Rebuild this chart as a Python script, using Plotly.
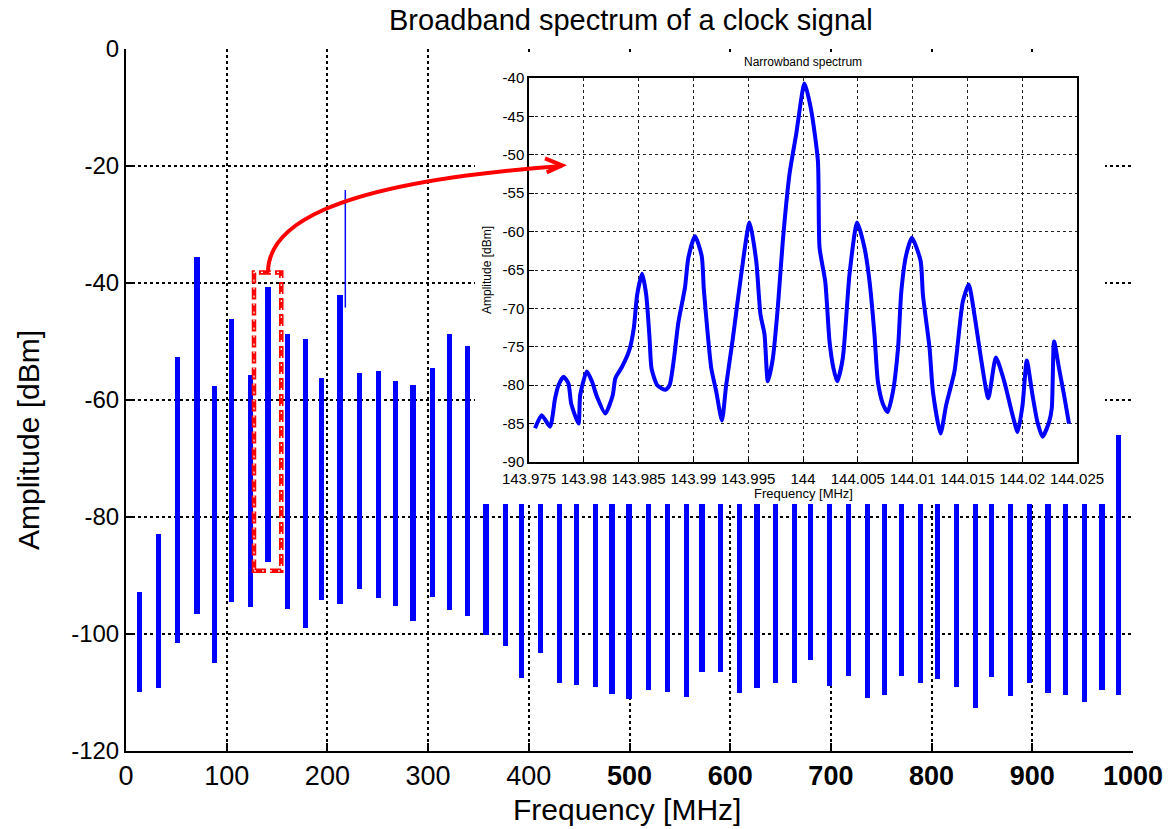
import plotly.graph_objects as go

# ---------------- broadband spectrum: clock harmonics ----------------
harm_freq = [13.6, 32.0, 51.3, 70.5, 87.7, 105.0, 124.0, 141.0, 160.6, 178.7,
             194.0, 212.5, 231.7, 250.5, 267.4, 285.0, 304.0, 320.8, 339.6,
             357.5, 377.0, 393.0, 411.4, 430.3, 447.6, 466.4, 482.6, 499.5, 519.0,
             538.0, 556.8, 572.0, 590.6, 609.4, 626.6, 645.2, 664.0, 679.5, 698.4,
             717.7, 736.5, 753.0, 770.0, 788.8, 806.0, 825.2, 843.8, 859.0, 877.9,
             897.0, 915.6, 932.8, 951.6, 969.2, 985.8]
# upper end of each harmonic trace (dBm); traces from 357.5 MHz on run up
# behind the narrowband panel
harm_top = [-92.9, -82.9, -52.7, -35.6, -57.6, -46.1, -55.8, -40.7, -48.8, -49.6,
            -56.2, -42.1, -55.4, -55.1, -56.8, -57.5, -54.6, -48.8, -50.8,
            -77.0, -77.0, -77.0, -77.0, -77.0, -77.0, -77.0, -77.0, -77.0, -77.0,
            -77.0, -77.0, -77.0, -77.0, -77.0, -77.0, -77.0, -77.0, -77.0, -77.0,
            -77.0, -77.0, -77.0, -77.0, -77.0, -77.0, -77.0, -77.0, -77.0, -77.0,
            -77.0, -77.0, -77.0, -77.0, -77.0, -66.0]
# lower end of each harmonic trace (dBm)
harm_bottom = [-109.9, -109.2, -101.5, -96.6, -105.0, -94.6, -95.3, -87.7, -95.7, -98.9,
               -94.2, -94.8, -92.3, -93.9, -95.2, -97.7, -93.6, -95.9, -97.0,
               -100.2, -102.0, -107.6, -103.3, -108.4, -108.8, -109.1, -110.3, -111.1, -109.6,
               -109.9, -110.7, -106.5, -106.5, -110.0, -109.3, -108.4, -108.3, -104.4, -108.9,
               -107.2, -110.9, -110.5, -107.2, -108.3, -107.7, -109.1, -112.6, -107.3, -110.6,
               -108.3, -110.1, -110.5, -111.7, -109.5, -110.5]

# narrow spur next to the 212 MHz harmonic
spur_freq = 217.8
spur_top = -24.1
spur_bottom = -44.2

main_xticks = [0, 100, 200, 300, 400, 500, 600, 700, 800, 900, 1000]
main_xtick_text = ["0", "100", "200", "300", "400",
                   "<b>500</b>", "<b>600</b>", "<b>700</b>", "<b>800</b>",
                   "<b>900</b>", "<b>1000</b>"]
main_yticks = [-120, -100, -80, -60, -40, -20, 0]
main_ytick_text = ["-120", "-100", "-80", "-60", "-40", "-20", "0"]

# ---------------- narrowband spectrum around 144 MHz ----------------
nb_freq = [143.97555, 143.97616, 143.97692, 143.97738, 143.97769, 143.97815, 143.97860,
           143.97885, 143.97952, 143.97967, 143.98028, 143.98074, 143.98120, 143.98196,
           143.98264, 143.98288, 143.98349, 143.98416, 143.98456, 143.98487, 143.98532,
           143.98569, 143.98600, 143.98618, 143.98670, 143.98746, 143.98783, 143.98823,
           143.98862, 143.98923, 143.98954, 143.99015, 143.99076, 143.99095, 143.99126,
           143.99163, 143.99208, 143.99260, 143.99299, 143.99360, 143.99436, 143.99512,
           143.99573, 143.99612, 143.99649, 143.99679, 143.99725, 143.99770, 143.99816,
           143.99877, 143.99938, 144.00014, 144.00075, 144.00136, 144.00151, 144.00203,
           144.00242, 144.00278, 144.00312, 144.00363, 144.00424, 144.00494, 144.00561,
           144.00607, 144.00652, 144.00683, 144.00728, 144.00772, 144.00821, 144.00867,
           144.00897, 144.00942, 144.00994, 144.01073, 144.01094, 144.01155, 144.01185,
           144.01255, 144.01306, 144.01382, 144.01458, 144.01512, 144.01564, 144.01624,
           144.01691, 144.01760, 144.01836, 144.01912, 144.01958, 144.02003, 144.02042,
           144.02094, 144.02139, 144.02185, 144.02245, 144.02270, 144.02291, 144.02336,
           144.02382, 144.02427]
nb_amp = [-85.6, -83.9, -85.4, -81.7, -80.0, -78.9, -79.8,
          -82.4, -85.0, -81.3, -78.2, -79.5, -81.5, -83.7,
          -81.3, -79.1, -77.6, -75.4, -72.6, -68.2, -65.5,
          -68.2, -73.9, -77.8, -80.0, -80.6, -80.0, -76.5,
          -71.9, -67.3, -63.4, -60.6, -63.2, -67.5, -72.6,
          -77.8, -80.8, -84.6, -80.0, -73.9, -65.6, -58.8,
          -63.8, -70.8, -73.4, -79.5, -76.5, -69.9, -61.2,
          -52.5, -47.3, -40.7, -44.2, -50.8, -62.1, -66.5,
          -74.3, -77.8, -79.5, -76.5, -65.6, -58.8, -62.1,
          -66.5, -73.4, -79.5, -82.4, -83.5, -80.8, -75.2,
          -67.8, -63.0, -60.8, -63.8, -68.2, -75.2, -80.8,
          -86.3, -82.6, -78.2, -69.1, -66.9, -70.8, -76.5,
          -81.7, -76.4, -79.5, -83.9, -86.1, -82.6, -76.8,
          -81.3, -84.8, -86.7, -84.8, -83.0, -74.3, -77.8,
          -81.3, -85.0]

nb_xticks = [143.975, 143.98, 143.985, 143.99, 143.995, 144.0,
             144.005, 144.01, 144.015, 144.02, 144.025]
nb_xtick_text = ["143.975", "143.98", "143.985", "143.99", "143.995", "144",
                 "144.005", "144.01", "144.015", "144.02", "144.025"]
nb_yticks = [-90, -85, -80, -75, -70, -65, -60, -55, -50, -45, -40]
nb_ytick_text = ["-90", "-85", "-80", "-75", "-70", "-65", "-60", "-55", "-50", "-45", "-40"]

BLUE = "#0000ff"
FONT = "Liberation Sans, Arial, sans-serif"
NARROW = "Liberation Sans Narrow, Arial Narrow, Liberation Sans, sans-serif"

fig = go.Figure()

# harmonic traces as floating bars
fig.add_trace(go.Bar(
    x=harm_freq,
    y=[t - b for t, b in zip(harm_top, harm_bottom)],
    base=harm_bottom,
    width=5,
    marker=dict(color=BLUE, line=dict(width=0)),
    xaxis="x", yaxis="y", showlegend=False, hoverinfo="skip",
))
fig.add_trace(go.Scatter(
    x=[spur_freq, spur_freq], y=[spur_top, spur_bottom],
    mode="lines", line=dict(color=BLUE, width=1.5),
    xaxis="x", yaxis="y", showlegend=False, hoverinfo="skip",
))

# white backing panel for the zoomed view
fig.add_trace(go.Scatter(
    x=[0, 1, 1, 0, 0], y=[0, 0, 1, 1, 0],
    fill="toself", fillcolor="white", mode="lines", line=dict(width=0, color="white"),
    xaxis="x2", yaxis="y2", showlegend=False, hoverinfo="skip",
))

# narrowband spectrum
fig.add_trace(go.Scatter(
    x=nb_freq, y=nb_amp, mode="lines",
    line=dict(color=BLUE, width=4, shape="spline", smoothing=0.6),
    xaxis="x3", yaxis="y3", showlegend=False, hoverinfo="skip",
))

W, H = 1176, 829
ML, MR, MT, MB = 126, 43, 49, 78
PW, PH = W - ML - MR, H - MT - MB


def px_x(px):
    return (px - ML) / PW


def px_y(py):
    return (H - MB - py) / PH


grid_common = dict(gridcolor="black", griddash="dot", gridwidth=1.5,
                   zeroline=False, showline=True, linecolor="black", linewidth=2,
                   ticks="inside", ticklen=8, tickwidth=2, tickcolor="black")

fig.update_layout(
    width=W, height=H,
    margin=dict(l=ML, r=MR, t=MT, b=MB),
    paper_bgcolor="white", plot_bgcolor="white",
    font=dict(family=FONT, color="black"),
    bargap=0,
    xaxis=dict(domain=[0, 1], range=[0, 1000], tickvals=main_xticks,
               ticktext=main_xtick_text,
               tickfont=dict(size=27, family=NARROW),
               anchor="y", **grid_common),
    yaxis=dict(domain=[0, 1], range=[-120, 0], tickvals=main_yticks,
               ticktext=main_ytick_text, tickfont=dict(size=24),
               anchor="x", **grid_common),
    xaxis2=dict(domain=[px_x(475), px_x(1105)], range=[0, 1], visible=False,
                anchor="y2", fixedrange=True),
    yaxis2=dict(domain=[px_y(504), px_y(52)], range=[0, 1], visible=False,
                anchor="x2", fixedrange=True),
    xaxis3=dict(domain=[px_x(529), px_x(1077)], range=[143.975, 144.025],
                tickvals=nb_xticks, ticktext=nb_xtick_text, tickangle=0,
                tickfont=dict(size=15), anchor="y3", ticklabelstandoff=2,
                showgrid=True, gridcolor="#222", griddash="dot", gridwidth=1,
                showline=True, mirror=True, linecolor="black", linewidth=1.5,
                ticks="inside", ticklen=5, tickcolor="black", zeroline=False),
    yaxis3=dict(domain=[px_y(462), px_y(78)], range=[-90, -40],
                tickvals=nb_yticks, ticktext=nb_ytick_text,
                tickfont=dict(size=15), anchor="x3",
                showgrid=True, gridcolor="#222", griddash="dot", gridwidth=1,
                showline=True, mirror=True, linecolor="black", linewidth=1.5,
                ticks="inside", ticklen=5, tickcolor="black", zeroline=False),
)

annotations = [
    dict(text="Broadband spectrum of a clock signal", x=px_x(631), y=px_y(20),
         font=dict(size=29)),
    dict(text="Frequency [MHz]", x=px_x(627), y=px_y(809), font=dict(size=30)),
    dict(text="Amplitude [dBm]", x=px_x(29), y=px_y(440), textangle=-90,
         font=dict(size=30)),
    dict(text="Narrowband spectrum", x=px_x(803), y=px_y(62), font=dict(size=12)),
    dict(text="Frequency [MHz]", x=px_x(803), y=px_y(493), font=dict(size=13)),
    dict(text="Amplitude [dBm]", x=px_x(487), y=px_y(270), textangle=-90,
         font=dict(size=12)),
]
for a in annotations:
    a.update(xref="paper", yref="paper", showarrow=False,
             xanchor="center", yanchor="middle")
fig.update_layout(annotations=annotations)

# highlight box around the 144 MHz harmonic and the curved pointer to the zoom
zoom_box = dict(x0=127.1, x1=154.2, y0=-89.2, y1=-38.2)
fig.add_shape(type="rect", xref="x", yref="y", layer="above", **zoom_box,
              line=dict(color="red", width=4.5, dash="12px,4px"))
fig.add_shape(type="rect", xref="x", yref="y", layer="above", **zoom_box,
              line=dict(color="white", width=1.2, dash="2px,6px"))
fig.add_shape(type="path", xref="x", yref="y", layer="above",
              path="M 141,-38.2 C 141,-31 190,-23 433,-20",
              line=dict(color="red", width=4))
fig.add_shape(type="path", xref="x", yref="y", layer="above",
              path="M 416.1,-18.7 L 433,-19.9 L 417.8,-21.1",
              line=dict(color="red", width=4))

fig.write_html("out.html")
